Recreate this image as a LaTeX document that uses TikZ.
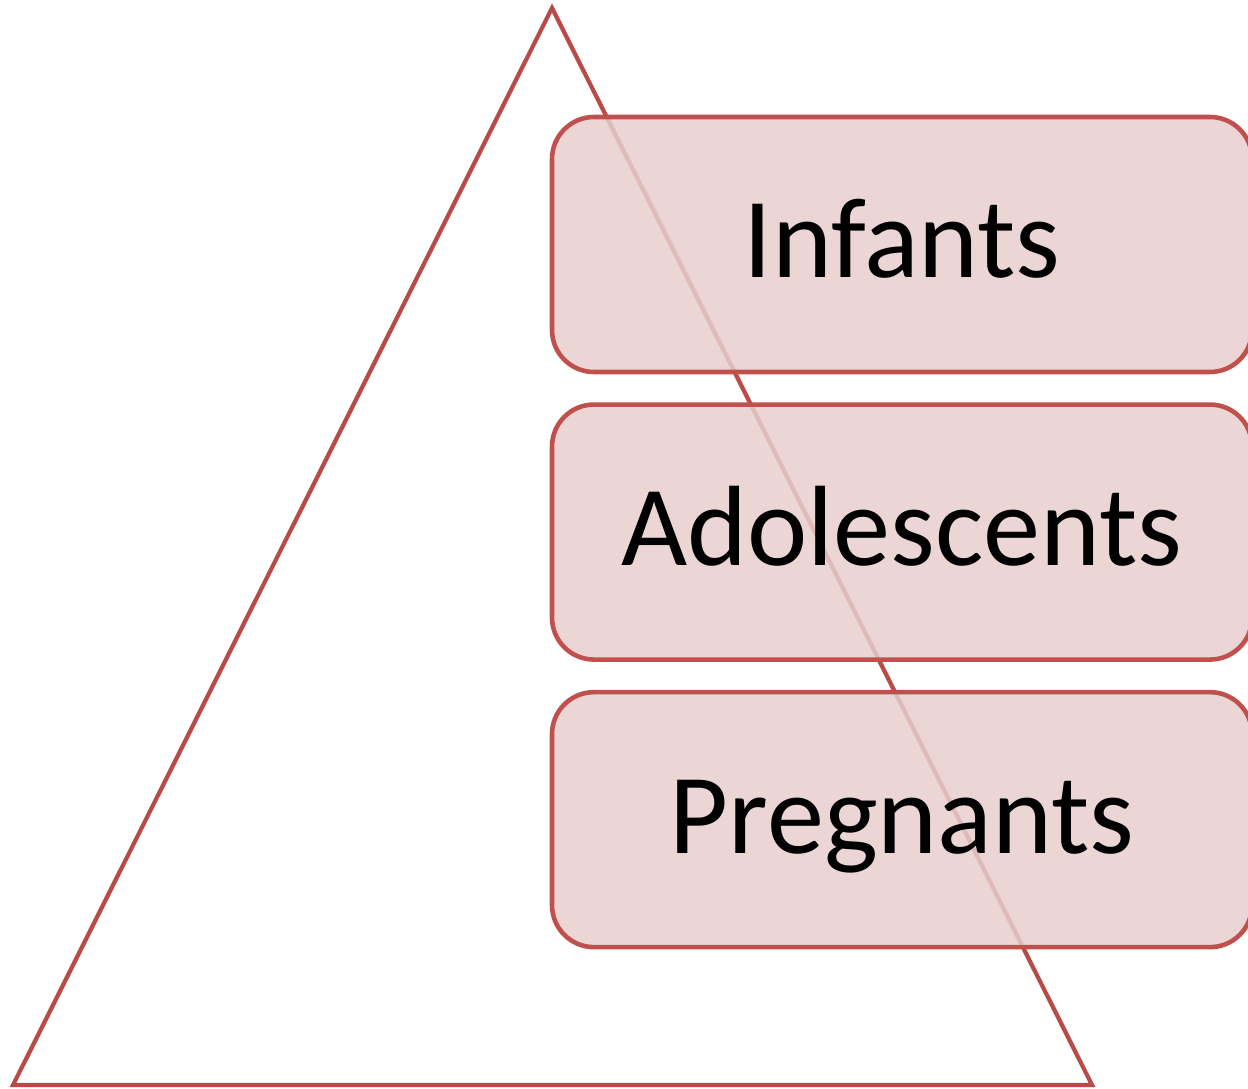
\documentclass[tikz,border=0pt]{standalone}
\usepackage{fontspec}
\setmainfont{Carlito}
\usepackage{tikz}
\usetikzlibrary{positioning}

\definecolor{boxred}{RGB}{192,80,77}
\definecolor{trired}{RGB}{185,74,71}
\definecolor{boxfill}{RGB}{231,206,206}

\begin{document}
\begin{tikzpicture}[node distance=0.28cm,
    group/.style={draw=boxred,line width=1.3pt,fill=boxfill,fill opacity=0.85,text opacity=1,
        rounded corners=0.42cm,minimum width=7cm,minimum height=2.55cm,
        text height=0.9cm,text depth=0.23cm,
        font=\fontsize{32.5}{38}\selectfont}]
    \useasboundingbox (0,0) rectangle (12.48,10.88);
    % pyramid
    \draw[trired,line width=1.2pt,line join=miter] (5.52,10.80) -- (0.13,0.03) -- (10.92,0.03) -- cycle;

    \node[group] (infants) at (9.02,8.435) {Infants};
    \node[group] (adolescents) [below=of infants] {Adolescents};
    \node[group] (pregnants) [below=of adolescents] {Pregnants};
\end{tikzpicture}
\end{document}
